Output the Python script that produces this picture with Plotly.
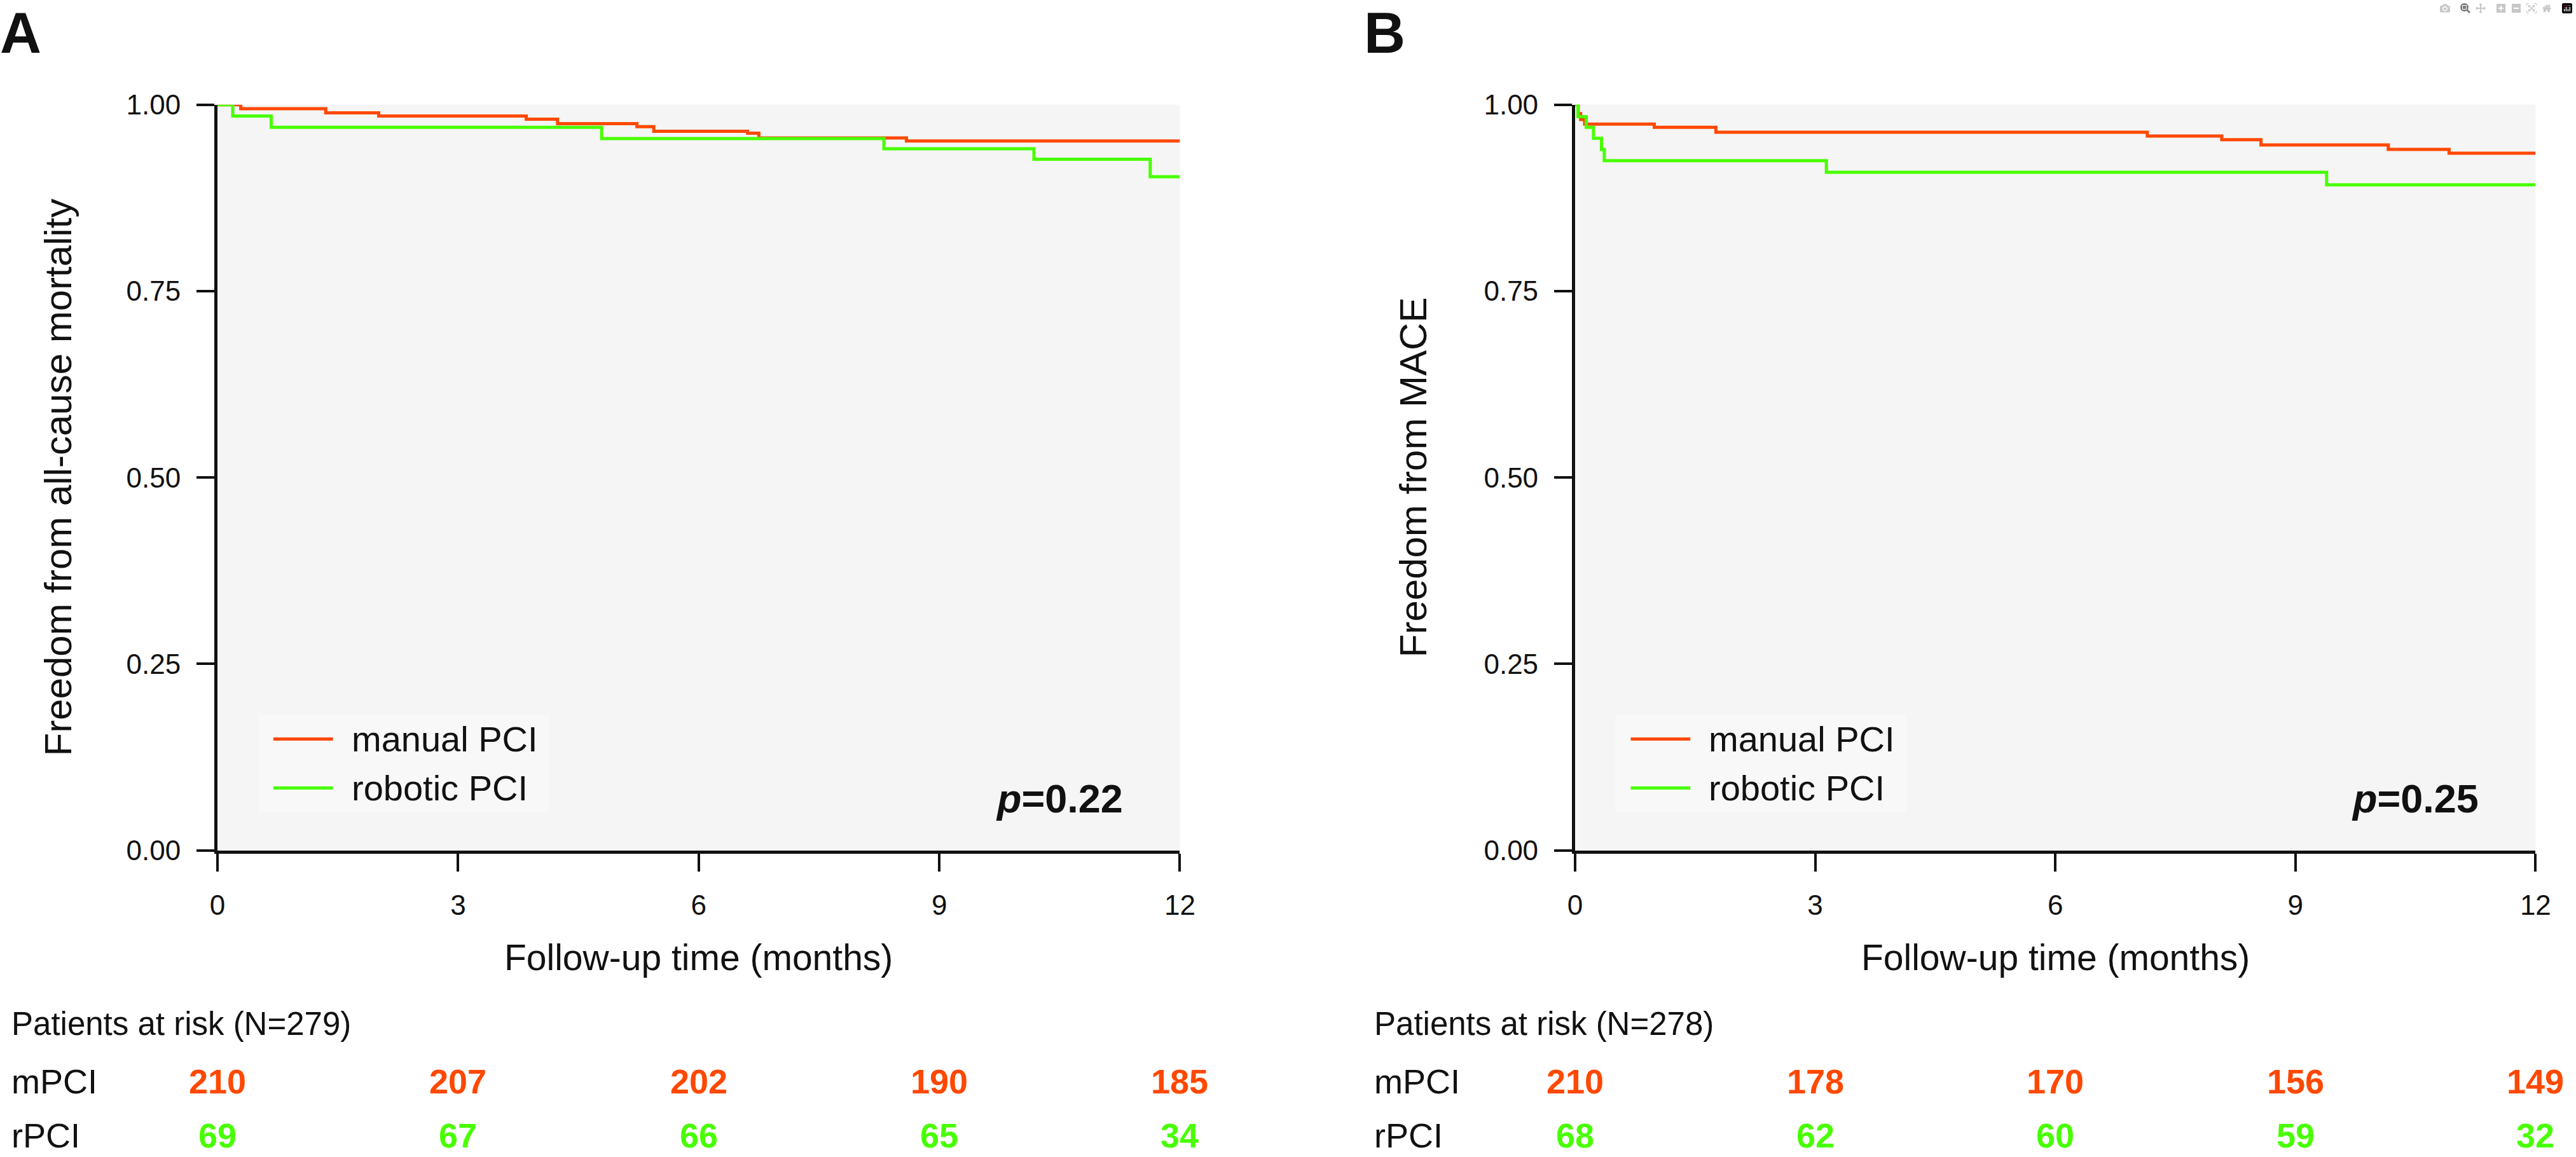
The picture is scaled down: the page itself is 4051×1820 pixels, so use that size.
import plotly.graph_objects as go

# ---------------- data ----------------
months_ticks = [0, 3, 6, 9, 12]
surv_ticks = [0.0, 0.25, 0.50, 0.75, 1.00]
surv_ticklabels = ["0.00", "0.25", "0.50", "0.75", "1.00"]

# Panel A: all-cause mortality
a_manual_t = [0, 0.29, 1.35, 2.01, 3.85, 4.24, 5.23, 5.44, 6.61, 6.75, 8.59, 12]
a_manual_s = [1.0, 0.9945, 0.989, 0.9848, 0.9806, 0.9745, 0.9705, 0.9643, 0.9618, 0.9554, 0.9513, 0.9513]
a_robotic_t = [0, 0.19, 0.67, 4.79, 8.31, 10.18, 11.63, 12]
a_robotic_s = [1.0, 0.9848, 0.9696, 0.9546, 0.9408, 0.9268, 0.9033, 0.9033]

# Panel B: MACE
b_manual_t = [0, 0.04, 0.07, 0.12, 0.99, 1.76, 7.15, 8.08, 8.57, 10.16, 10.92, 12]
b_manual_s = [1.0, 0.988, 0.980, 0.974, 0.9696, 0.963, 0.958, 0.953, 0.946, 0.940, 0.935, 0.935]
b_robotic_t = [0, 0.037, 0.14, 0.23, 0.33, 0.365, 3.14, 9.39, 12]
b_robotic_s = [1.0, 0.984, 0.9696, 0.955, 0.9397, 0.9248, 0.9094, 0.8925, 0.8925]

# Patients at risk
a_risk_m = [210, 207, 202, 190, 185]
a_risk_r = [69, 67, 66, 65, 34]
b_risk_m = [210, 178, 170, 156, 149]
b_risk_r = [68, 62, 60, 59, 32]

a_N = 279
b_N = 278
a_p = "0.22"
b_p = "0.25"
a_ytitle = "Freedom from all-cause mortality"
b_ytitle = "Freedom from MACE"
xtitle = "Follow-up time (months)"
series_names = ["manual PCI", "robotic PCI"]
row_labels = ["mPCI", "rPCI"]

# ---------------- style ----------------
W, H = 4051, 1820
ORANGE = "#FF4800"
GREEN = "#48FF00"
INK = "#111111"
PLOT_BG = "#F4F5F4"
LEG_BG = "#F8F8F8"
REG = "Liberation Sans, Arial, Helvetica, sans-serif"

def px_x(v):
    return v / W

def px_y(v):
    return (H - v) / H

A_dom = [px_x(333), px_x(1860)]
B_dom = [px_x(2487), px_x(4011)]
Y_dom = [px_y(1349), px_y(143.5)]

fig = go.Figure()

for (t, s, name, col, xa, ya) in [
    (a_manual_t, a_manual_s, series_names[0], ORANGE, "x", "y"),
    (a_robotic_t, a_robotic_s, series_names[1], GREEN, "x", "y"),
    (b_manual_t, b_manual_s, series_names[0], ORANGE, "x2", "y2"),
    (b_robotic_t, b_robotic_s, series_names[1], GREEN, "x2", "y2"),
]:
    fig.add_trace(go.Scatter(x=t, y=s, mode="lines", line=dict(color=col, width=5, shape="hv"),
                             name=name, showlegend=False, xaxis=xa, yaxis=ya, hoverinfo="skip"))

axis_common = dict(showline=True, linewidth=5, linecolor=INK, ticks="outside", ticklen=28,
                   tickwidth=4, tickcolor=INK, showgrid=False, zeroline=False,
                   tickfont=dict(family=REG, size=44, color=INK), ticklabelstandoff=16)

fig.update_layout(
    width=W, height=H, autosize=False,
    margin=dict(l=0, r=0, t=0, b=0),
    paper_bgcolor="white", plot_bgcolor=PLOT_BG,
    xaxis=dict(domain=A_dom, range=[0, 12], tickvals=months_ticks, anchor="y", **axis_common),
    yaxis=dict(domain=Y_dom, range=[0, 1], tickvals=surv_ticks, ticktext=surv_ticklabels, anchor="x", **axis_common),
    xaxis2=dict(domain=B_dom, range=[0, 12], tickvals=months_ticks, anchor="y2", **axis_common),
    yaxis2=dict(domain=Y_dom, range=[0, 1], tickvals=surv_ticks, ticktext=surv_ticklabels, anchor="x2", **axis_common),
    showlegend=False,
)

shapes = []
ann = []

panels = [
    ("x", "y", "A", px_x(-14), px_x(80), a_ytitle, a_p, px_x(4), a_N, a_risk_m, a_risk_r),
    ("x2", "y2", "B", px_x(2150), px_x(2230), b_ytitle, b_p, px_x(2166), b_N, b_risk_m, b_risk_r),
]

ymid = (Y_dom[0] + Y_dom[1]) / 2
for (xa, ya, letter, letter_x, ytitle_x, ytitle, pval, table_x, N, rm, rr) in panels:
    xd = xa + " domain"
    yd = ya + " domain"
    # legend box
    shapes.append(dict(type="rect", xref=xd, yref=yd, x0=0.042, x1=0.345, y0=0.0514, y1=0.1824,
                       fillcolor=LEG_BG, line=dict(width=0), layer="below"))
    for name, col, yy in [(series_names[0], ORANGE, 0.1493), (series_names[1], GREEN, 0.0837)]:
        shapes.append(dict(type="line", xref=xd, yref=yd, x0=0.058, x1=0.120, y0=yy, y1=yy,
                           line=dict(color=col, width=5)))
        ann.append(dict(xref=xd, yref=yd, x=0.138, y=yy, text=name, showarrow=False,
                        xanchor="left", yanchor="middle", font=dict(family=REG, size=56, color=INK)))
    # p value
    ann.append(dict(xref=xd, yref=yd, x=0.942, y=0.070, text="<b><i>p</i>=" + pval + "</b>",
                    showarrow=False, xanchor="right", yanchor="middle",
                    font=dict(family=REG, size=63, color=INK)))
    # x title
    ann.append(dict(xref=xd, yref="paper", x=0.5, y=px_y(1522), text=xtitle, showarrow=False,
                    xanchor="center", yanchor="middle", font=dict(family=REG, size=57, color=INK)))
    # y title
    ann.append(dict(xref="paper", yref="paper", x=ytitle_x, y=ymid, text=ytitle, showarrow=False,
                    textangle=-90, xanchor="center", yanchor="middle",
                    font=dict(family=REG, size=60, color=INK)))
    # panel letter
    ann.append(dict(xref="paper", yref="paper", x=letter_x, y=px_y(28), text="<b>" + letter + "</b>",
                    showarrow=False, xanchor="left", yanchor="middle",
                    font=dict(family=REG, size=90, color=INK)))
    # at-risk table
    ann.append(dict(xref="paper", yref="paper", x=table_x, y=px_y(1629),
                    text="Patients at risk (N=%d)" % N, showarrow=False, xanchor="left",
                    yanchor="middle", font=dict(family=REG, size=51, color=INK)))
    for lab, yy in [(row_labels[0], px_y(1722)), (row_labels[1], px_y(1810))]:
        ann.append(dict(xref="paper", yref="paper", x=table_x, y=yy, text=lab, showarrow=False,
                        xanchor="left", yanchor="middle", font=dict(family=REG, size=54, color=INK)))
    for vals, col, yy in [(rm, ORANGE, px_y(1722)), (rr, GREEN, px_y(1810))]:
        for t, v in zip(months_ticks, vals):
            ann.append(dict(xref=xa, yref="paper", x=t, y=yy, text="<b>%d</b>" % v, showarrow=False,
                            xanchor="center", yanchor="middle",
                            font=dict(family=REG, size=54, color=col)))

fig.update_layout(shapes=shapes, annotations=ann)

fig.write_html("out.html", post_script="document.body.style.margin='0';document.body.style.overflow='hidden';")
